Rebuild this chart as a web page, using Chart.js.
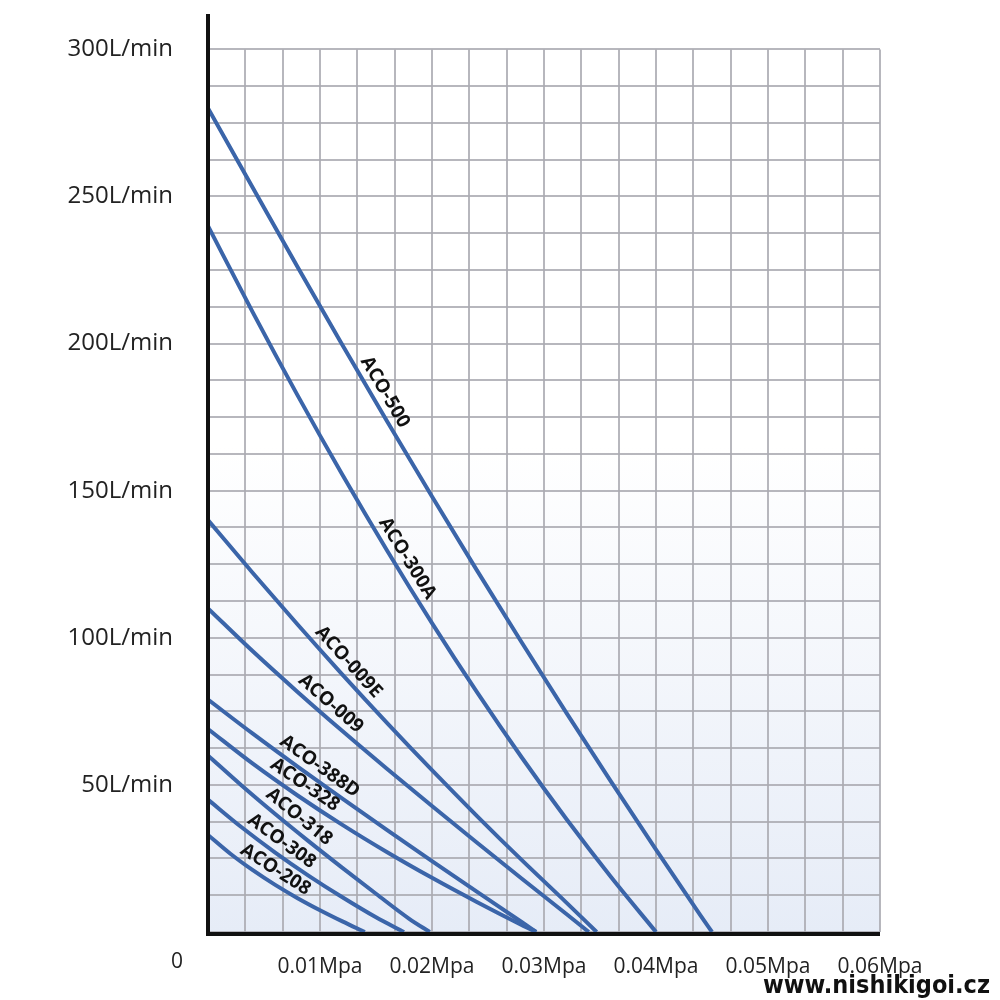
<!DOCTYPE html>
<html>
<head>
<meta charset="utf-8">
<script src="https://cdn.jsdelivr.net/npm/chart.js@4.4.1/dist/chart.umd.min.js"></script>
<style>
  html, body { margin: 0; padding: 0; background: #fff; }
  #wrap { width: 1000px; height: 1000px; position: relative; }
</style>
</head>
<body>
<div id="wrap"><canvas id="graphic"></canvas></div>
<script>
// Data (pressure in Mpa, flow in L/min)
const aco500P = [0, 0.004, 0.008, 0.012, 0.016, 0.020, 0.024, 0.028, 0.032, 0.036, 0.040, 0.044, 0.045];
const aco500Q = [280, 253, 226, 199.5, 173.5, 148, 123, 98.5, 74.5, 51, 28, 5.5, 0];

const aco300aP = [0, 0.004, 0.008, 0.012, 0.016, 0.020, 0.024, 0.028, 0.032, 0.036, 0.040];
const aco300aQ = [240, 210.6, 182.4, 155.4, 129.6, 105, 81.6, 59.4, 38.4, 18.6, 0];

const aco009eP = [0, 0.004, 0.008, 0.012, 0.016, 0.020, 0.024, 0.028, 0.032, 0.0347];
const aco009eQ = [140, 122, 104.5, 87.5, 71, 55, 39.5, 24.5, 10, 0];

const aco009P = [0, 0.004, 0.008, 0.012, 0.016, 0.020, 0.024, 0.028, 0.032, 0.034];
const aco009Q = [110, 95.4, 81.6, 68.3, 55.4, 42.8, 30.4, 18.2, 6.1, 0];

const aco388dP = [0, 0.004, 0.008, 0.012, 0.016, 0.020, 0.024, 0.028, 0.0293];
const aco388dQ = [79, 67.4, 56.2, 45.3, 34.6, 24.1, 13.7, 3.4, 0];

const aco328P = [0, 0.004, 0.008, 0.012, 0.016, 0.020, 0.024, 0.028, 0.0293];
const aco328Q = [69, 57.2, 46.4, 36.4, 27.1, 18.4, 10.2, 2.4, 0];

const aco318P = [0, 0.003, 0.006, 0.009, 0.012, 0.015, 0.018, 0.0198];
const aco318Q = [60, 49.8, 40.1, 30.8, 21.8, 13, 4.4, 0];

const aco308P = [0, 0.003, 0.006, 0.009, 0.012, 0.015, 0.0175];
const aco308Q = [45, 35.6, 27, 19.1, 11.8, 5, 0];

const aco208P = [0, 0.002, 0.004, 0.006, 0.008, 0.010, 0.012, 0.014];
const aco208Q = [33, 26.6, 21, 16, 11.5, 7.4, 3.6, 0];

// Axis ticks
const pressureMax = 0.06;
const pressureLabels = [0.01, 0.02, 0.03, 0.04, 0.05, 0.06];
const flowMax = 300;
const flowLabels = [50, 100, 150, 200, 250, 300];

const series = [
  { name: 'ACO-500', p: aco500P, q: aco500Q, labelAt: 0.0148 },
  { name: 'ACO-300A', p: aco300aP, q: aco300aQ, labelAt: 0.0168 },
  { name: 'ACO-009E', p: aco009eP, q: aco009eQ, labelAt: 0.0117 },
  { name: 'ACO-009', p: aco009P, q: aco009Q, labelAt: 0.0102 },
  { name: 'ACO-388D', p: aco388dP, q: aco388dQ, labelAt: 0.0093 },
  { name: 'ACO-328', p: aco328P, q: aco328Q, labelAt: 0.0080 },
  { name: 'ACO-318', p: aco318P, q: aco318Q, labelAt: 0.0074 },
  { name: 'ACO-308', p: aco308P, q: aco308Q, labelAt: 0.0059 },
  { name: 'ACO-208', p: aco208P, q: aco208Q, labelAt: 0.0054 }
];

const lineColor = '#3b65a9';
const gridColor = 'rgba(170,170,178,0.85)';

// linear lookup along a series
function flowAt(s, p) {
  for (let i = 0; i < s.p.length - 1; i++) {
    if (p >= s.p[i] && p <= s.p[i + 1]) {
      const t = (p - s.p[i]) / (s.p[i + 1] - s.p[i]);
      return s.q[i] + t * (s.q[i + 1] - s.q[i]);
    }
  }
  return s.q[s.q.length - 1];
}

// Plot background
const bgPlugin = {
  id: 'bg',
  beforeDraw(chart) {
    const { ctx, chartArea: a } = chart;
    const g = ctx.createLinearGradient(0, a.top, 0, a.bottom);
    g.addColorStop(0, '#ffffff');
    g.addColorStop(0.45, '#ffffff');
    g.addColorStop(1, '#e6ecf7');
    ctx.save();
    ctx.fillStyle = g;
    ctx.fillRect(a.left, a.top, a.right - a.left, a.bottom - a.top);
    ctx.restore();
  }
};

// Axis lines, curve labels and extra text
const decoPlugin = {
  id: 'deco',
  afterDraw(chart) {
    const { ctx, chartArea: a, scales } = chart;
    const x = scales.x, y = scales.y;
    ctx.save();

    // black axes
    ctx.strokeStyle = '#111';
    ctx.lineWidth = 4;
    ctx.beginPath();
    ctx.moveTo(a.left, 14);
    ctx.lineTo(a.left, a.bottom + 2);
    ctx.lineTo(a.right, a.bottom + 2);
    ctx.stroke();

    // curve labels
    ctx.fillStyle = '#111';
    ctx.font = 'bold 19px "Open Sans", sans-serif';
    ctx.textAlign = 'center';
    ctx.textBaseline = 'middle';
    series.forEach((s) => {
      const p0 = s.labelAt - 0.001, p1 = s.labelAt + 0.001;
      const x0 = x.getPixelForValue(p0), y0 = y.getPixelForValue(flowAt(s, p0));
      const x1 = x.getPixelForValue(p1), y1 = y.getPixelForValue(flowAt(s, p1));
      const ang = Math.atan2(y1 - y0, x1 - x0);
      const px = x.getPixelForValue(s.labelAt);
      const py = y.getPixelForValue(flowAt(s, s.labelAt));
      const off = 13;
      ctx.save();
      ctx.translate(px + Math.sin(ang) * off, py - Math.cos(ang) * off);
      ctx.rotate(ang);
      ctx.fillText(s.name, 0, 0);
      ctx.restore();
    });

    // origin label
    ctx.fillStyle = '#222';
    ctx.font = '21px "Open Sans", sans-serif';
    ctx.textAlign = 'center';
    ctx.fillText('0', a.left - 31, a.bottom + 30);

    // site text
    ctx.font = 'bold 25px "DejaVu Sans Condensed", "DejaVu Sans", sans-serif';
    ctx.textAlign = 'right';
    ctx.textBaseline = 'alphabetic';
    ctx.fillStyle = '#111';
    ctx.fillText('www.nishikigoi.cz', 990, 993);
    ctx.restore();
  }
};

const chart = new Chart(document.querySelector('#graphic'), {
  type: 'line',
  data: {
    datasets: series.map((s) => ({
      label: s.name,
      data: s.p.map((p, i) => ({ x: p, y: s.q[i] })),
      borderColor: lineColor,
      borderWidth: 4,
      pointRadius: 0,
      fill: false,
      cubicInterpolationMode: 'monotone'
    }))
  },
  options: {
    responsive: true,
    maintainAspectRatio: false,
    animation: false,
    layout: { padding: { top: 48, right: 120, left: 0, bottom: 0 } },
    plugins: {
      legend: { display: false },
      tooltip: { enabled: false }
    },
    scales: {
      x: {
        type: 'linear',
        min: 0,
        max: pressureMax,
        afterBuildTicks(scale) {
          const t = [];
          for (let i = 0; i <= 18; i++) t.push({ value: (pressureMax * i) / 18 });
          scale.ticks = t;
        },
        afterFit(scale) { scale.height = 68; },
        grid: { color: gridColor, lineWidth: 2, drawTicks: false },
        border: { display: false },
        ticks: {
          autoSkip: false,
          maxRotation: 0,
          padding: 22,
          color: '#222',
          font: { family: '"Open Sans", sans-serif', size: 21 },
          callback: (v) => {
            const hit = pressureLabels.find((l) => Math.abs(l - v) < 1e-6);
            return hit ? hit.toFixed(2) + 'Mpa' : '';
          }
        }
      },
      y: {
        type: 'linear',
        min: 0,
        max: flowMax,
        afterBuildTicks(scale) {
          const t = [];
          for (let i = 0; i <= 24; i++) t.push({ value: (flowMax * i) / 24 });
          scale.ticks = t;
        },
        afterFit(scale) { scale.width = 208; },
        grid: { color: gridColor, lineWidth: 2, drawTicks: false },
        border: { display: false },
        ticks: {
          autoSkip: false,
          padding: 35,
          color: '#222',
          font: { family: '"Open Sans", sans-serif', size: 24 },
          callback: (v) => (flowLabels.includes(v) ? v + 'L/min' : '')
        }
      }
    }
  },
  plugins: [bgPlugin, decoPlugin]
});
</script>
</body>
</html>
